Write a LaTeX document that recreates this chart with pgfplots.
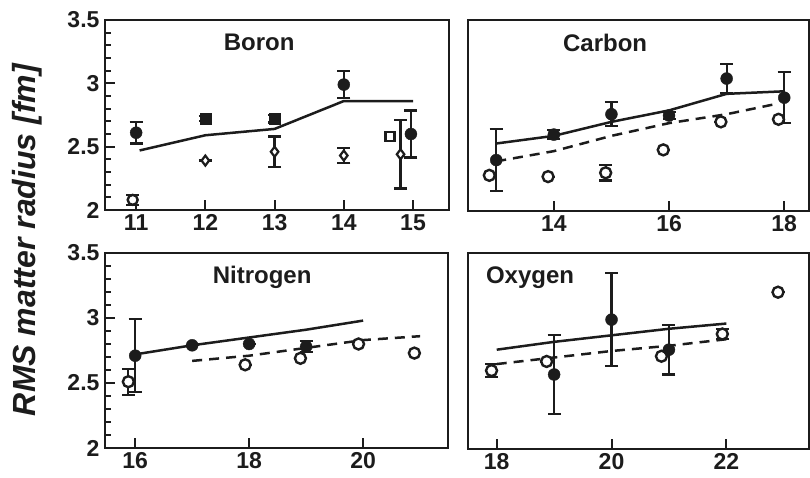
\documentclass[border=0pt]{standalone}
\usepackage{pgfplots}
\pgfplotsset{compat=1.18}
\usepackage{fontspec}
\setmainfont{Liberation Sans}
\definecolor{ink}{HTML}{1C1C1C}

\tikzset{
  ptitle/.style={font=\fontsize{24}{24}\selectfont\bfseries, text=ink},
  tk/.style={ink, line width=2pt},
}

% inward tick marks along the bottom and left frame lines
\newcommand\xticksat[1]{\pgfplotsinvokeforeach{#1}{\draw[tk] (axis cs:##1,2) -- ++(0pt,10pt);}}
\newcommand\yticksleft[1]{%
  \pgfplotsinvokeforeach{2,2.5,3,3.5}{\draw[tk] (axis cs:#1,##1) -- ++(10pt,0pt);}%
  \pgfplotsinvokeforeach{2.1,2.2,2.3,2.4,2.6,2.7,2.8,2.9,3.1,3.2,3.3,3.4}{\draw[tk] (axis cs:#1,##1) -- ++(6pt,0pt);}}

\pgfplotsset{
  panel/.style={
    scale only axis, anchor=south west,
    ymin=2, ymax=3.5,
    axis line style={line width=2.4pt, draw=ink},
    every tick/.append style={line width=2pt, draw=ink},
    major tick length=10pt, minor tick length=6pt,
    tick pos=left,
    /pgf/number format/assume math mode=true,
    ticklabel style={font=\fontsize{23}{23}\selectfont\bfseries, text=ink},
    xticklabel style={yshift=-1pt},
  },
  leftpanel/.style={ytick={2,2.5,3,3.5},
    yticklabels={2,2.5,3,3.5}, yticklabel style={xshift=-2pt}},
  rightpanel/.style={ytick=\empty},
  theory/.style={ink, line width=2.5pt, no marks},
  theorydash/.style={ink, line width=2.5pt, no marks, dash pattern=on 10pt off 7pt},
  werr/.style={
    error bars/y dir=both, error bars/y explicit,
    error bars/error bar style={line width=2.2pt, ink, solid},
    error bars/error mark options={rotate=90, mark size=6.5pt, line width=2.2pt, ink}},
  fcirc/.style={only marks, mark=*, mark size=6pt, mark options={fill=ink, draw=ink}, werr},
  fsq/.style={only marks, mark=square*, mark size=5.5pt, mark options={fill=ink, draw=ink}, werr},
  ocirc/.style={only marks, mark=*, mark size=5.5pt, mark options={fill=white, draw=ink, line width=2.4pt}, werr},
  odiam/.style={only marks, mark=diamond*, mark size=5pt, mark options={fill=white, draw=ink, line width=2.2pt}, werr},
  osq/.style={only marks, mark=square*, mark size=4.5pt, mark options={fill=white, draw=ink, line width=2.6pt}, werr},
}

\begin{document}
\begin{tikzpicture}
\useasboundingbox (0,0) rectangle (810pt,478pt);

% Boron
\begin{axis}[panel, leftpanel, at={(105pt,268pt)}, width=344pt, height=190pt,
  xmin=10.55, xmax=15.52, xtick={11,12,13,14,15}]
  \xticksat{11,12,13,14,15}
  \yticksleft{10.55}
  \addplot[theory] coordinates {(11.05,2.47) (12,2.59) (13,2.64) (14,2.86) (15,2.86)};
  \addplot[ocirc, mark size=5pt] coordinates {(10.95,2.08) +- (0,0.04)};
  \addplot[odiam] coordinates {(12,2.39) +- (0,0) (13,2.46) +- (0,0.12) (14,2.43) +- (0,0.06) (14.82,2.44) +- (0,0.27)};
  \addplot[osq] coordinates {(14.67,2.58)};
  \addplot[fsq] coordinates {(12,2.72) +- (0,0.02) (13,2.72) +- (0,0.03)};
  \addplot[fcirc] coordinates {(11,2.61) +- (0,0.085) (14,2.99) +- (0,0.105) (14.97,2.60) +- (0,0.185)};
  \node[ptitle] at (rel axis cs:0.448,0.884) {Boron};
\end{axis}

% Carbon
\begin{axis}[panel, rightpanel, at={(468pt,267pt)}, width=341pt, height=191pt,
  xmin=12.51, xmax=18.43, xtick={14,16,18}]
  \xticksat{14,16,18}
  \addplot[theory] coordinates {(13,2.53) (14,2.59) (15,2.70) (16,2.79) (17,2.92) (18,2.94)};
  \addplot[theorydash] coordinates {(13,2.39) (14,2.47) (15,2.59) (16,2.69) (17,2.76) (17.85,2.84)};
  \addplot[ocirc] coordinates {(12.88,2.28) +- (0,0) (13.9,2.27) +- (0,0) (14.9,2.30) +- (0,0.06)
     (15.9,2.48) +- (0,0) (16.9,2.70) +- (0,0) (17.9,2.72) +- (0,0)};
  \addplot[fcirc] coordinates {(13,2.40) +- (0,0.245) (14,2.60) +- (0,0.035) (15,2.76) +- (0,0.095)
     (16,2.75) +- (0,0.03) (17,3.04) +- (0,0.115) (18,2.89) +- (0,0.2)};
  \node[ptitle] at (rel axis cs:0.402,0.88) {Carbon};
\end{axis}

% Nitrogen
\begin{axis}[panel, leftpanel, at={(105pt,30pt)}, width=343pt, height=195pt,
  xmin=15.47, xmax=21.49, xtick={16,18,20}]
  \xticksat{16,18,20}
  \yticksleft{15.47}
  \addplot[theory] coordinates {(16,2.72) (17,2.79) (18,2.85) (19,2.91) (20,2.98)};
  \addplot[theorydash] coordinates {(17,2.67) (18,2.71) (19,2.77) (20,2.83) (21,2.86)};
  \addplot[ocirc] coordinates {(15.88,2.51) +- (0,0.1) (17.93,2.64) +- (0,0) (18.9,2.69) +- (0,0)
     (19.92,2.80) +- (0,0) (20.9,2.73) +- (0,0)};
  \addplot[fcirc] coordinates {(16,2.71) +- (0,0.28) (17,2.79) +- (0,0) (18,2.80) +- (0,0) (19,2.78) +- (0,0.04)};
  \node[ptitle] at (rel axis cs:0.458,0.877) {Nitrogen};
\end{axis}

% Oxygen
\begin{axis}[panel, rightpanel, at={(468pt,29pt)}, width=341pt, height=196pt,
  xmin=17.5, xmax=23.44, xtick={18,20,22}]
  \xticksat{18,20,22}
  \addplot[theory] coordinates {(18,2.76) (19,2.82) (20,2.87) (21,2.92) (22,2.96)};
  \addplot[theorydash] coordinates {(18,2.65) (19,2.70) (20,2.75) (21,2.79) (22,2.84)};
  \addplot[ocirc] coordinates {(17.91,2.60) +- (0,0.05) (18.87,2.67) +- (0,0) (20.87,2.71) +- (0,0)
     (21.93,2.88) +- (0,0.04) (22.9,3.20) +- (0,0)};
  \addplot[fcirc] coordinates {(19,2.57) +- (0,0.30) (20,2.99) +- (0,0.355) (21,2.76) +- (0,0.19)};
  \node[ptitle] at (rel axis cs:0.182,0.872) {Oxygen};
\end{axis}

\node[rotate=90, font=\fontsize{32}{32}\selectfont\bfseries\itshape, text=ink] at (27pt,238pt) {RMS matter radius [fm]};
\end{tikzpicture}
\end{document}
